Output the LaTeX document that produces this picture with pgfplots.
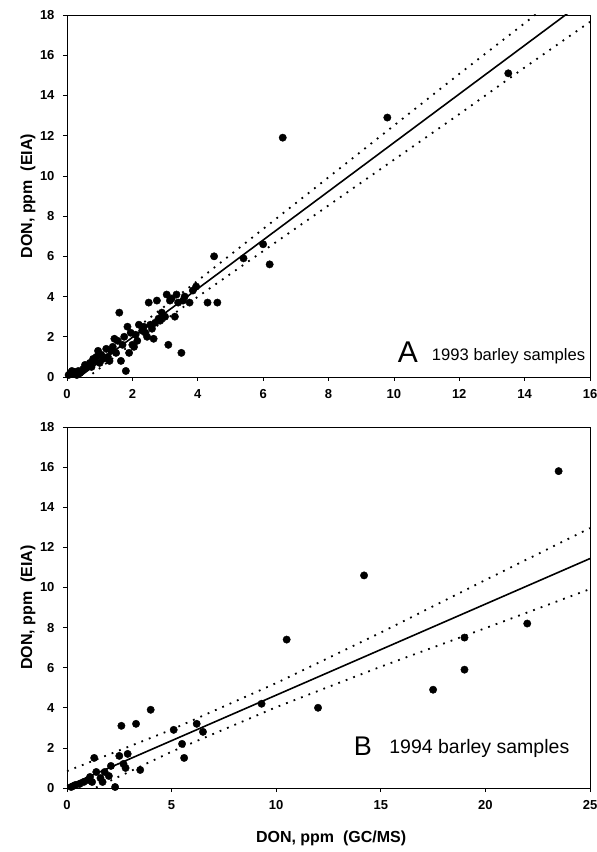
\documentclass[border=0pt]{standalone}
\usepackage{pgfplots}
\pgfplotsset{compat=1.18}
\usepackage{fontspec}
\setmainfont{Liberation Sans}

\pgfplotsset{
  donaxis/.style={
    scale only axis,
    width=523pt, height=362pt,
    ymin=0, ymax=18, ytick={0,2,...,18},
    tick pos=left,
    tick align=outside,
    major tick length=4pt,
    axis line style={line width=0.8pt},
    every tick/.style={black, line width=0.7pt},
    /pgf/number format/assume math mode=true,
    tick label style={font=\bfseries\fontsize{13}{14}\selectfont},
    xticklabel style={yshift=-5pt},
    yticklabel style={xshift=-5pt},
    label style={font=\bfseries\fontsize{16}{18}\selectfont},
    ylabel={DON, ppm\ \ (EIA)},
    ylabel style={at={(axis description cs:-0.0746,0.5)}, anchor=center},
    clip=true,
  },
  pts/.style={only marks, mark=*, mark size=3.7pt, black, mark options={fill=black}},
  fit/.style={black, line width=1.6pt, no marks},
  band/.style={black, line width=1.8pt, dash pattern=on 1.8pt off 6.2pt, no marks},
}

\begin{document}
\begin{tikzpicture}
\useasboundingbox (-67pt,-64pt) rectangle (530pt,788pt);

% ---------------- Panel A ----------------
\begin{axis}[donaxis,
  at={(0,411pt)}, anchor=south west,
  xmin=0, xmax=16, xtick={0,2,...,16},
]
\addplot[pts] table {
x y
0.05 0.1
0.1 0.2
0.15 0.3
0.2 0.15
0.25 0.25
0.3 0.1
0.35 0.3
0.4 0.2
0.5 0.4
0.55 0.6
0.6 0.5
0.7 0.7
0.75 0.5
0.8 0.9
0.85 0.8
0.9 1.0
0.95 1.3
1.0 0.7
1.05 1.1
1.1 0.9
1.2 1.4
1.25 1.0
1.3 0.8
1.35 1.3
1.4 1.5
1.45 1.9
1.5 1.2
1.55 1.8
1.6 3.2
1.65 0.8
1.7 1.6
1.75 2.0
1.8 0.3
1.85 2.5
1.9 1.2
1.95 2.2
2.0 1.6
2.05 1.5
2.1 2.1
2.15 1.8
2.2 2.6
2.3 2.3
2.35 2.5
2.4 2.2
2.45 2.0
2.5 3.7
2.55 2.6
2.6 2.4
2.65 1.9
2.7 2.7
2.75 3.8
2.8 2.9
2.85 2.8
2.9 3.2
3.0 3.0
3.05 4.1
3.1 1.6
3.15 3.8
3.2 3.9
3.3 3.0
3.35 4.1
3.4 3.7
3.5 1.2
3.55 3.8
3.6 4.0
3.75 3.7
3.85 4.3
3.95 4.5
4.3 3.7
4.5 6.0
4.6 3.7
5.4 5.9
6.0 6.6
6.2 5.6
6.6 11.9
9.8 12.9
13.5 15.1
};
\addplot[fit] coordinates {(0,-0.45) (16,18.91)};
\addplot[band] coordinates {(0,-0.1) (2,2.27) (4,4.79) (6,7.36) (8,9.93) (10,12.5) (12,15.07) (14,17.59) (16,20.16)};
\addplot[band] coordinates {(0,-0.8) (2,1.67) (4,3.99) (6,6.26) (8,8.53) (10,10.8) (12,13.07) (14,15.39) (16,17.66)};
\node[anchor=base west, font=\fontsize{30}{32}\selectfont, inner sep=0pt] at (axis cs:10.12,0.7) {A};
\node[anchor=base west, font=\fontsize{16.6}{18}\selectfont, inner sep=0pt] at (axis cs:11.16,0.8) {1993 barley samples};
\end{axis}

% ---------------- Panel B ----------------
\begin{axis}[donaxis,
  at={(0,0)}, anchor=south west,
  height=361pt,
  xmin=0, xmax=25, xtick={0,5,...,25},
  xlabel={DON, ppm\ \ (GC/MS)},
  xlabel style={at={(axis description cs:0.505,-0.1385)}, anchor=center},
]
\addplot[pts] table {
x y
0.2 0.05
0.3 0.1
0.4 0.15
0.6 0.2
0.8 0.3
1.0 0.4
1.1 0.55
1.2 0.3
1.3 1.5
1.4 0.8
1.6 0.5
1.7 0.3
1.8 0.8
2.0 0.6
2.1 1.1
2.3 0.05
2.5 1.6
2.6 3.1
2.7 1.2
2.8 1.0
2.9 1.7
3.3 3.2
3.5 0.9
4.0 3.9
5.1 2.9
5.5 2.2
5.6 1.5
6.2 3.2
6.5 2.8
9.3 4.2
10.5 7.4
12.0 4.0
14.2 10.6
17.5 4.9
19.0 7.5
19.0 5.9
22.0 8.2
23.5 15.8
};
\addplot[fit] coordinates {(0,0.09) (25,11.44)};
\addplot[band] coordinates {(0,0.84) (5,2.91) (10,5.23) (15,7.75) (20,10.37) (25,12.96)};
\addplot[band] coordinates {(0,-0.66) (5,1.81) (10,4.03) (15,6.05) (20,7.97) (25,9.92)};
\node[anchor=base west, font=\fontsize{27}{28}\selectfont, inner sep=0pt] at (axis cs:13.7,1.6) {B};
\node[anchor=base west, font=\fontsize{19.5}{21}\selectfont, inner sep=0pt] at (axis cs:15.4,1.7) {1994 barley samples};
\end{axis}
\end{tikzpicture}
\end{document}
